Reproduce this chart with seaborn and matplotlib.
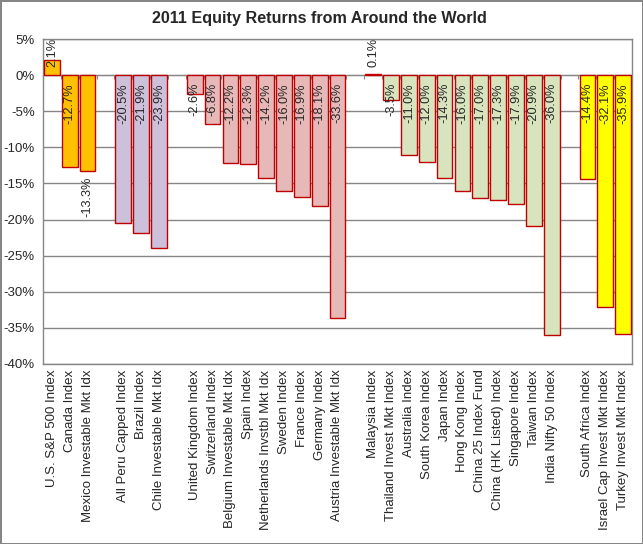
import matplotlib
matplotlib.use("Agg")
import matplotlib.pyplot as plt
import seaborn as sns
import pandas as pd
import numpy as np

# ---- data ----
americas_names = ["U.S. S&P 500 Index", "Canada Index", "Mexico Investable Mkt Idx"]
americas_vals = [2.1, -12.7, -13.3]
latam_names = ["All Peru Capped Index", "Brazil Index", "Chile Investable Mkt Idx"]
latam_vals = [-20.5, -21.9, -23.9]
europe_names = ["United Kingdom Index", "Switzerland Index", "Belgium Investable Mkt Idx",
                "Spain Index", "Netherlands Invstbl Mkt Idx", "Sweden Index", "France Index",
                "Germany Index", "Austria Investable Mkt Idx"]
europe_vals = [-2.6, -6.8, -12.2, -12.3, -14.2, -16.0, -16.9, -18.1, -33.6]
asia_names = ["Malaysia Index", "Thailand Invest Mkt Index", "Australia Index",
              "South Korea Index", "Japan Index", "Hong Kong Index", "China 25 Index Fund",
              "China (HK Listed) Index", "Singapore Index", "Taiwan Index", "India Nifty 50 Index"]
asia_vals = [0.1, -3.5, -11.0, -12.0, -14.3, -16.0, -17.0, -17.3, -17.9, -20.9, -36.0]
emea_names = ["South Africa Index", "Israel Cap Invest Mkt Index", "Turkey Invest Mkt Index"]
emea_vals = [-14.4, -32.1, -35.9]

group_names = ["North America", "Latin America", "Europe", "Asia Pacific", "EMEA"]
group_colors = ["#FFC000", "#CCC0DA", "#E6B9B8", "#D7E4BD", "#FFFF00"]
outside_label = ["Mexico Investable Mkt Idx"]  # label placed below bar end

title = "2011 Equity Returns from Around the World"

# ---- build table ----
groups = [americas_names, latam_names, europe_names, asia_names, emea_names]
gvals = [americas_vals, latam_vals, europe_vals, asia_vals, emea_vals]
rows = []
order = []
for gi, (nm, vl) in enumerate(zip(groups, gvals)):
    if gi > 0:
        order.append(" " * gi)  # empty gap slot
    for n, v in zip(nm, vl):
        rows.append({"name": n, "ret": v, "region": group_names[gi]})
        order.append(n)
df = pd.DataFrame(rows)
palette = dict(zip(group_names, group_colors))

# ---- plot ----
sns.set_style("white")
plt.rcParams["font.family"] = ["Liberation Sans", "DejaVu Sans"]
grey = "#868686"
fs_tick = 9.5
fs_lab = 9.2

fig = plt.figure(figsize=(6.43, 5.44), dpi=100)
fig.patch.set_facecolor("white")
fig.patch.set_edgecolor(grey)
fig.patch.set_linewidth(2)
ax = fig.add_axes([43 / 643, 180 / 544, 589 / 643, 325 / 544])

sns.barplot(data=df, x="name", y="ret", hue="region", order=order, palette=palette,
            dodge=False, width=0.88, saturation=1, edgecolor="#C00000", linewidth=1,
            legend=False, ax=ax, zorder=3)

ax.set_ylim(-40, 5)
ax.set_xlim(-0.5, len(order) - 0.5)
yt = np.arange(-40, 6, 5)
ax.set_yticks(yt)
ax.set_yticklabels([f"{v:.0f}%" for v in yt], fontsize=fs_tick)
ax.yaxis.grid(True, color=grey, linewidth=1, zorder=0)
ax.set_axisbelow(True)
for s in ax.spines.values():
    s.set_color(grey)
    s.set_linewidth(1)
ax.tick_params(axis="y", length=4, color=grey, direction="out", pad=2)
ax.tick_params(axis="x", length=0, pad=4)
ax.set_xticks(range(len(order)))
ax.set_xticklabels(order, rotation=90, fontsize=fs_tick, va="top", ha="center")
ax.set_xlabel("")
ax.set_ylabel("")

# zero line with slot tick marks
sec = ax.secondary_xaxis(0, transform=ax.transData)
sec.set_xticks(np.arange(-0.5, len(order), 1.0))
sec.set_xticklabels([])
sec.tick_params(axis="x", length=3, color=grey, direction="out")
sec.spines["bottom"].set_color(grey)

# data labels
pos = {n: i for i, n in enumerate(order)}
for _, r in df.iterrows():
    x = pos[r["name"]]
    v = r["ret"]
    txt = f"{v:.1f}%"
    if r["name"] in outside_label:
        ax.text(x, v - 0.8, txt, rotation=90, ha="center", va="top", fontsize=fs_lab, zorder=5)
    elif v >= 0:
        ax.text(x, 1.1, txt, rotation=90, ha="center", va="bottom", fontsize=fs_lab, zorder=5)
    else:
        ax.text(x, -1.1, txt, rotation=90, ha="center", va="top", fontsize=fs_lab, zorder=5)

fig.text(319 / 643, 1 - 19 / 544, title, ha="center", va="center",
         fontsize=11.6, fontweight="bold")

fig.savefig("out.png", dpi=100)
